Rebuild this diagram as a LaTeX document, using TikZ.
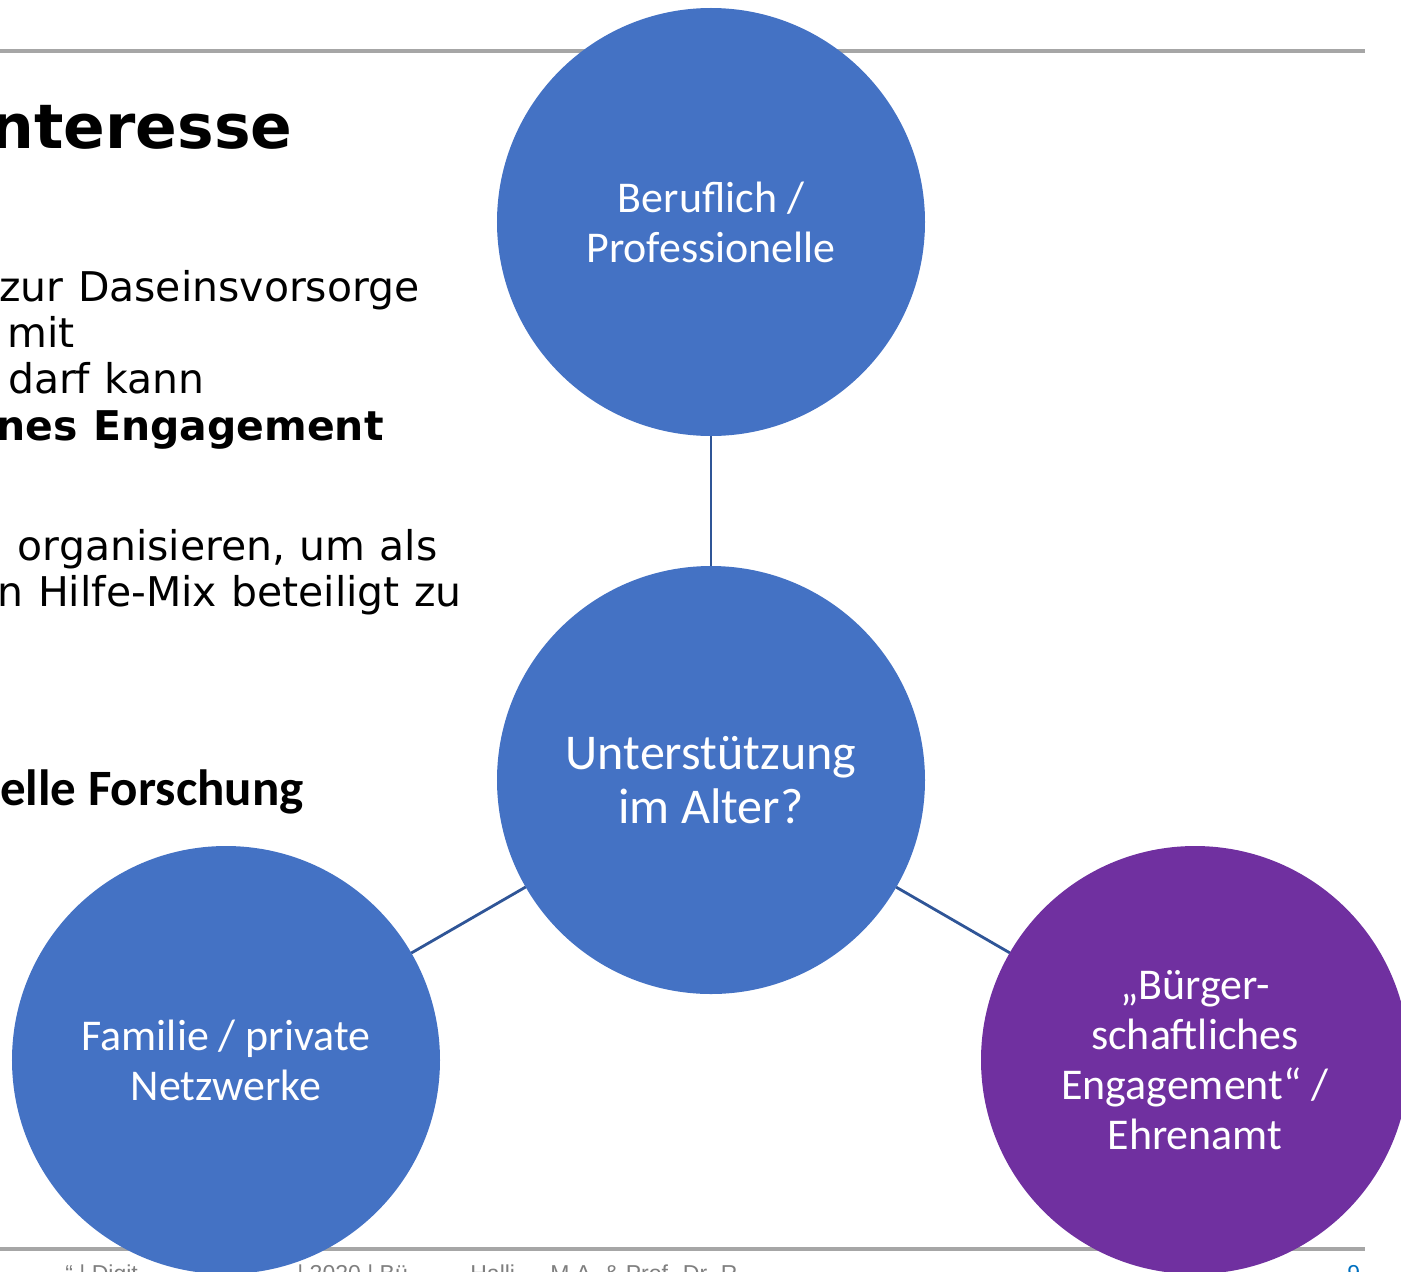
\documentclass[tikz,border=0pt]{standalone}
\usepackage{fontspec}
\setmainfont{DejaVu Sans}[WordSpace=1.1]
\newfontfamily\calibri{Carlito}
\newfontfamily\arial{Liberation Sans}
\usetikzlibrary{positioning}
\definecolor{accentblue}{HTML}{4472C4}
\definecolor{accentpurple}{HTML}{7030A0}
\definecolor{linkblue}{HTML}{2F5597}
\definecolor{rulegray}{HTML}{A6A6A6}
\definecolor{footgray}{HTML}{7F7F7F}
\definecolor{pageblue}{HTML}{0070C0}
\tikzset{
    bubble/.style={
        circle, fill=accentblue, text=white,
        minimum size=8.56cm, inner sep=0pt, outer sep=0pt,
        align=center,
        font=\calibri\fontsize{25}{28.5}\selectfont,
    },
    link/.style={
        draw=linkblue, line width=1.6pt,
    },
    rule/.style={
        draw=rulegray, line width=2.3pt,
    },
    slidetext/.style={
        anchor=base east, inner sep=0pt,
        font=\fontsize{23.3}{26}\selectfont,
    },
    foot/.style={
        anchor=base west, inner sep=0pt, text=footgray,
        font=\arial\fontsize{13.1}{15}\selectfont,
    },
}
\begin{document}
\begin{tikzpicture}[x=0.2mm,y=-0.2mm]
    \useasboundingbox (0,0) rectangle (1401,1271);
    \clip (0,0) rectangle (1401,1271);
    % slide frame
    \draw[rule] (0,51) -- (1365,51);
    \draw[rule] (0,1249) -- (1365,1249);
    % text of the slide, cut at the left
    \node[slidetext, font=\bfseries\fontsize{35}{40}\selectfont] (title) at (293,148) {nteresse};
    \node[slidetext] (line1) at (420,301) {zur Daseinsvorsorge};
    \node[slidetext] (line2) at (75,347) {mit};
    \node[slidetext] (line3) at (205,393) {darf kann};
    \node[slidetext, font=\bfseries\fontsize{23.3}{26}\selectfont] (line4) at (384,440) {nes Engagement};
    \node[slidetext] (line5) at (438,560) {organisieren, um als};
    \node[slidetext] (line6) at (462,606) {n Hilfe-Mix beteiligt zu};
    \node[slidetext, font=\calibri\bfseries\fontsize{29}{32}\selectfont] (line7) at (304,805) {elle Forschung};
    % footer
    \node[foot] (foot1) at (65,1281) {“ | Digit};
    \node[foot] (foot2) at (297,1281) {| 2020 | Bü};
    \node[foot] (foot3) at (470,1281) {Halli};
    \node[foot] (foot4) at (550,1281) {M.A. \& Prof. Dr. R};
    \node[foot, text=pageblue] (page) at (1347,1281) {9};
    % circles
    \node[bubble, font=\calibri\fontsize{28.5}{30.7}\selectfont] (hub) at (711,780) {Unterstützung\\im Alter?};
    \node[bubble, above=2.6cm of hub] (pro) {Beruflich /\\Professionelle};
    \node[bubble] (family) at (226,1060) {Familie / private\\Netzwerke};
    \node[bubble, fill=accentpurple] (civic) at (1195,1060) {„Bürger-\\schaftliches\\Engagement“ /\\Ehrenamt};
    \draw[link] (hub) -- (pro);
    \draw[link] (hub) -- (family);
    \draw[link] (hub) -- (civic);
\end{tikzpicture}
\end{document}
